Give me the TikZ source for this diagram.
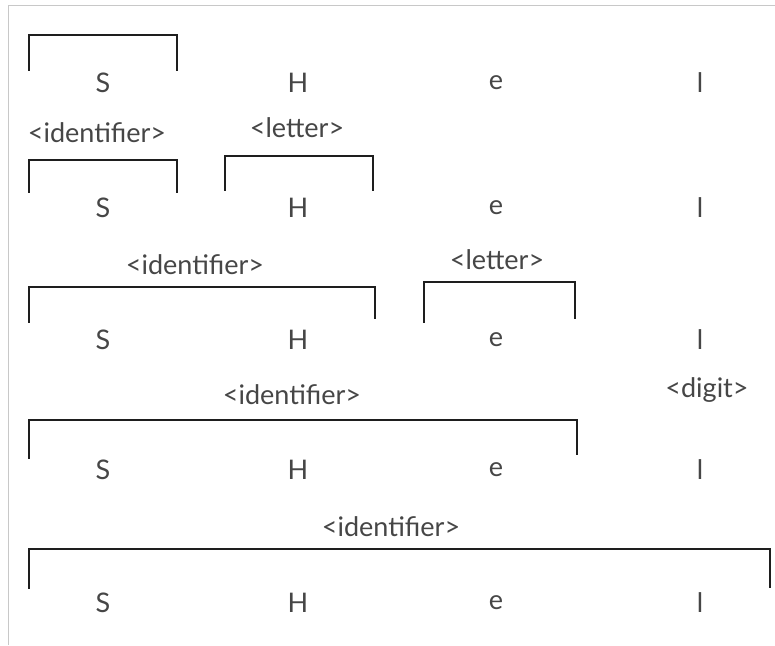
\documentclass[tikz,border=0pt]{standalone}
\usepackage{fontspec}
\setmainfont{Lato}
\usepackage{tikz}
\usetikzlibrary{positioning}
\definecolor{ink}{RGB}{70,70,70}
\definecolor{rule}{RGB}{30,30,30}
\definecolor{edge}{RGB}{200,200,200}
\tikzset{
	every node/.style = { inner sep=0pt, text=ink, font=\fontsize{27}{31}\selectfont },
	sym/.style = { anchor=center },
	nt/.style  = { anchor=center },
	brk/.style = { draw=rule, line width=1.8pt, line cap=rect },
	frame/.style = { draw=edge, line width=1pt },
}

\begin{document}
\begin{tikzpicture}[x=1pt,y=-1pt]
\useasboundingbox (0,0) rectangle (775,645);
\draw[frame] (8,645) -- (8,5) -- (775,5);

% the word, once per derivation step
\foreach \r/\y in {1/83,2/208,3/340,4/470,5/603} {
	\node (s\r) [sym] at (103,\y) {S};
	\node (h\r) [sym] at (298,\y) {H};
	\node (e\r) [sym] at (496,\y) {e};
	\node (l\r) [sym] at (700,\y) {l};
}

% step 1
\draw[brk] (29,70) |- (177,35) -- (177,70);

% step 2
\node (id2)  [nt] at (97,133)  {<identifier>};
\node (let2) [nt] at (297,128) {<letter>};
\draw[brk] (29,192) |- (177,160) -- (177,192);
\draw[brk] (225,190) |- (373,156) -- (373,190);

% step 3
\node (id3)  [nt] at (195,265) {<identifier>};
\node (let3) [nt] at (497,260) {<letter>};
\draw[brk] (29,322) |- (375,287) -- (375,318);
\draw[brk] (424,322) |- (575,282) -- (575,318);

% step 4
\node (id4)  [nt] at (292,395) {<identifier>};
\node (dig4) [nt] at (707,390) {<digit>};
\draw[brk] (29,458) |- (577,420) -- (577,454);

% step 5
\node (id5)  [nt] at (391,527) {<identifier>};
\draw[brk] (29,588) |- (770,549) -- (770,587);

\end{tikzpicture}
\end{document}
